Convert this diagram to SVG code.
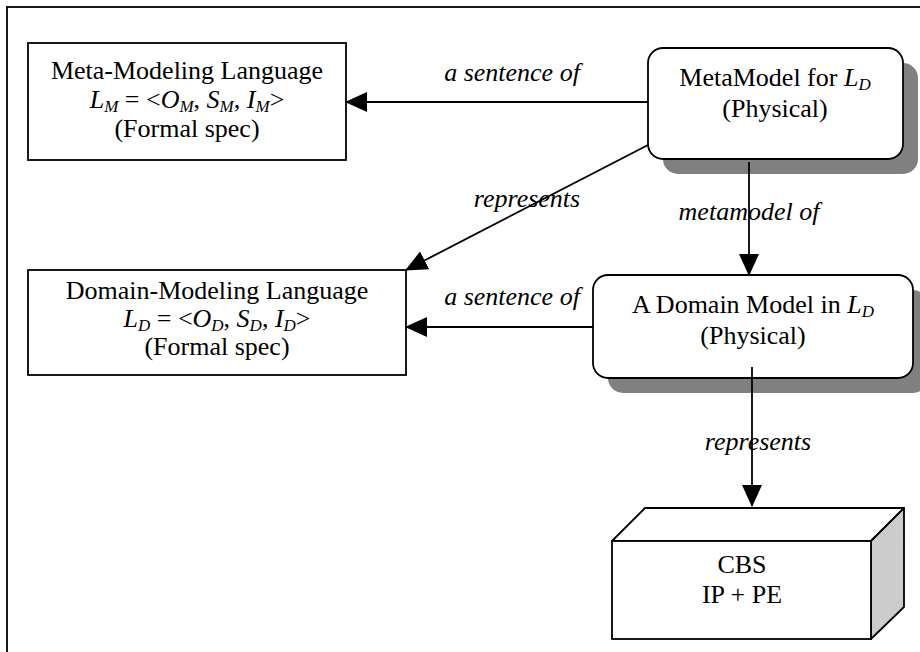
<svg xmlns="http://www.w3.org/2000/svg" width="920" height="652" viewBox="0 0 920 652">
<defs>
<style>
text{font-family:"Liberation Serif","Times New Roman",serif;fill:#000}
.t{font-size:26px;text-anchor:middle}
.lab{font-size:26px;font-style:italic;text-anchor:middle}
.box{fill:#fff;stroke:#000;stroke-width:1.8}
.shadow{fill:#808080}
.conn{stroke:#000;stroke-width:1.8;fill:none}
.i{font-style:italic}
</style>
<marker id="ah" markerUnits="userSpaceOnUse" markerWidth="22" markerHeight="22" viewBox="0 0 22 22" refX="21" refY="11" orient="auto">
<path d="M0,1 L22,11 L0,21 Z" fill="#000"/>
</marker>
</defs>
<rect x="7" y="7" width="1000" height="1000" fill="#fff" stroke="#000" stroke-width="1.8"/>

<g id="meta-lang">
<rect class="box" x="28" y="43" width="318" height="117"/>
<text class="t" x="187" y="79">Meta-Modeling Language</text>
<text class="t" x="187" y="108"><tspan class="i">L</tspan><tspan class="i" font-size="17" dy="4">M</tspan><tspan dy="-4"> = &lt;</tspan><tspan class="i">O</tspan><tspan class="i" font-size="17" dy="4">M</tspan><tspan dy="-4">, </tspan><tspan class="i">S</tspan><tspan class="i" font-size="17" dy="4">M</tspan><tspan dy="-4">, </tspan><tspan class="i">I</tspan><tspan class="i" font-size="17" dy="4">M</tspan><tspan dy="-4">&gt;</tspan></text>
<text class="t" x="187" y="137">(Formal spec)</text>
</g>

<g id="domain-lang">
<rect class="box" x="28" y="270" width="378" height="105"/>
<text class="t" x="217" y="299">Domain-Modeling Language</text>
<text class="t" x="217" y="327"><tspan class="i">L</tspan><tspan class="i" font-size="17" dy="4">D</tspan><tspan dy="-4"> = &lt;</tspan><tspan class="i">O</tspan><tspan class="i" font-size="17" dy="4">D</tspan><tspan dy="-4">, </tspan><tspan class="i">S</tspan><tspan class="i" font-size="17" dy="4">D</tspan><tspan dy="-4">, </tspan><tspan class="i">I</tspan><tspan class="i" font-size="17" dy="4">D</tspan><tspan dy="-4">&gt;</tspan></text>
<text class="t" x="217" y="355">(Formal spec)</text>
</g>

<g id="metamodel">
<rect class="shadow" x="663" y="63" width="255" height="111" rx="15"/>
<rect class="box" x="648" y="48" width="255" height="111" rx="15"/>
<text class="t" x="775" y="86">MetaModel for <tspan class="i">L</tspan><tspan class="i" font-size="17" dy="4">D</tspan></text>
<text class="t" x="775" y="117">(Physical)</text>
</g>

<g id="domain-model">
<rect class="shadow" x="608" y="290" width="320" height="103" rx="15"/>
<rect class="box" x="593" y="275" width="320" height="103" rx="15"/>
<text class="t" x="753" y="313">A Domain Model in <tspan class="i">L</tspan><tspan class="i" font-size="17" dy="4">D</tspan></text>
<text class="t" x="753" y="344">(Physical)</text>
</g>

<g id="cbs">
<path d="M612,541 L645,508 L904,508 L871,541 Z" fill="#fff" stroke="#000" stroke-width="1.8" stroke-linejoin="round"/>
<path d="M871,541 L904,508 L904,607 L871,639 Z" fill="#cccccc" stroke="#000" stroke-width="1.8" stroke-linejoin="round"/>
<rect class="box" x="612" y="541" width="259" height="98"/>
<text class="t" x="742" y="573">CBS</text>
<text class="t" x="742" y="603">IP + PE</text>
</g>

<g id="connectors">
<line class="conn" x1="648" y1="102" x2="346" y2="102" marker-end="url(#ah)"/>
<line class="conn" x1="648" y1="145" x2="406" y2="270" marker-end="url(#ah)"/>
<line class="conn" x1="749" y1="162" x2="749" y2="275" marker-end="url(#ah)"/>
<line class="conn" x1="593" y1="327" x2="406" y2="327" marker-end="url(#ah)"/>
<line class="conn" x1="752" y1="367" x2="752" y2="506" marker-end="url(#ah)"/>
<text class="lab" x="512" y="81">a sentence of</text>
<text class="lab" x="527" y="207">represents</text>
<text class="lab" x="749" y="220">metamodel of</text>
<text class="lab" x="512" y="305">a sentence of</text>
<text class="lab" x="758" y="450">represents</text>
</g>
</svg>
